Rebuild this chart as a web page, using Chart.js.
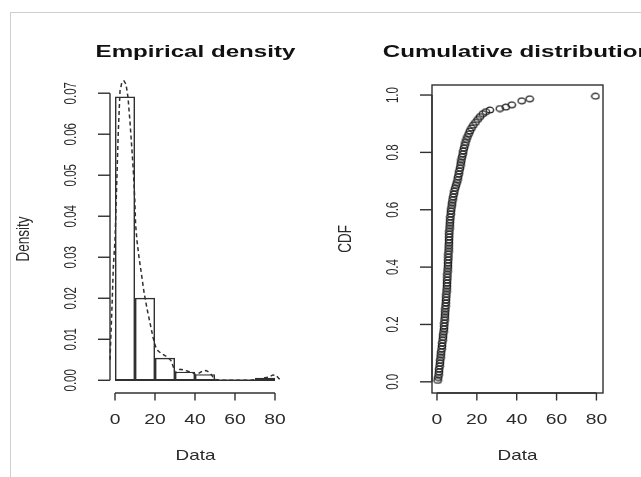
<!DOCTYPE html>
<html lang="en">
<head>
<meta charset="UTF-8">
<title>Empirical density · Cumulative distribution</title>
<script src="https://cdn.jsdelivr.net/npm/chart.js"></script>
<style>
  html, body {margin: 0; padding: 0; background: #fff; overflow: hidden;}
  body {width: 641px; height: 477px; position: relative; font-family: 'Liberation Sans', Arial, sans-serif;}
  .frame {position: absolute; left: 10px; top: 12px; width: 700px; height: 500px; border-top: 1px solid #cfcfcf; border-left: 1px solid #cfcfcf;}
  #densityBox {position: absolute; left: 0; top: 0; width: 320px; height: 477px;}
  #cdfBox {position: absolute; left: 320px; top: 0; width: 380px; height: 477px;}
  canvas {filter: blur(0.4px);}
</style>
</head>
<body>
<div class="frame"></div>
<div id="densityBox"><canvas id="densityChart" width="320" height="477"></canvas></div>
<div id="cdfBox"><canvas id="cdfChart" width="380" height="477"></canvas></div>
<script>
// --- data ---

// histogram (density per bin of width 10)
const binEdges = [0, 10, 20, 30, 40, 50, 60, 70, 80];
const binDensity = [0.0692, 0.0201, 0.0055, 0.0021, 0.0015, 0, 0, 0.0006];

// dashed empirical density curve
const kdeX = [-2.5, -1.5, -0.8, 0, 0.8, 1.6, 2.5, 3.5, 4.5, 5.5, 6.5, 7.5, 8.5, 9.3, 9.9, 10.3, 11, 12, 13.2, 14.5,
              16, 17.5, 19, 20.3, 21.5, 23, 25, 26.5, 28, 29, 30, 31, 32.5, 34.5, 36.5, 38.5, 40, 41.5, 43.5, 45.5,
              47.5, 49, 50.5, 53, 60, 68, 71, 73, 75, 77, 79, 80.5, 82, 83];
const kdeY = [0.005, 0.018, 0.028, 0.034, 0.047, 0.060, 0.0705, 0.0728, 0.0730, 0.0722, 0.0690, 0.0630, 0.0560, 0.0500, 0.0440, 0.0380, 0.0340, 0.0300, 0.0260, 0.0215,
              0.0175, 0.0140, 0.0105, 0.0082, 0.0072, 0.0066, 0.0060, 0.0056, 0.0048, 0.0035, 0.0020, 0.0019, 0.0027, 0.0025, 0.0022, 0.0020, 0.0014, 0.0016, 0.0022, 0.0024,
              0.0018, 0.0008, 0.0002, 0, 0, 0, 0.0002, 0.0004, 0.0006, 0.0008, 0.0013, 0.0012, 0.0004, 0.0001];

// empirical cumulative distribution (open circles)
const cdfX = [0.3, 0.6, 0.8, 1.0, 1.1, 1.3, 1.5, 1.6, 1.8, 1.9, 2.1, 2.3, 2.5, 2.6, 2.8, 3.0, 3.1, 3.3, 3.5, 3.6,
              3.7, 3.8, 3.9, 4.0, 4.1, 4.2, 4.3, 4.4, 4.5, 4.6, 4.7, 4.8, 4.9, 5.0, 5.0, 5.1, 5.2, 5.2, 5.3, 5.4,
              5.5, 5.5, 5.6, 5.7, 5.7, 5.8, 5.9, 5.9, 6.0, 6.0, 6.1, 6.1, 6.2, 6.3, 6.4, 6.5, 6.6, 6.7, 6.9, 7.0,
              7.2, 7.4, 7.6, 7.8, 8.1, 8.4, 8.7, 9.1, 9.5, 9.9, 10.3, 10.6, 10.9, 11.2, 11.5, 11.8, 12.0, 12.3, 12.6, 12.9,
              13.2, 13.5, 13.9, 14.3, 14.8, 15.3, 15.9, 16.5, 17.3, 18.2, 19.3, 20.4, 21.6, 23.0, 24.5, 26.5, 31.5, 34.5, 37.5, 42.5,
              46.5, 79.5];
const cdfY = [0.005, 0.015, 0.025, 0.035, 0.045, 0.055, 0.065, 0.075, 0.085, 0.095, 0.105, 0.115, 0.125, 0.135, 0.145, 0.155, 0.165, 0.175, 0.185, 0.195,
              0.205, 0.215, 0.225, 0.235, 0.245, 0.255, 0.265, 0.275, 0.285, 0.295, 0.305, 0.315, 0.325, 0.335, 0.345, 0.355, 0.365, 0.375, 0.385, 0.395,
              0.405, 0.415, 0.425, 0.435, 0.445, 0.455, 0.465, 0.475, 0.485, 0.495, 0.505, 0.515, 0.525, 0.535, 0.545, 0.555, 0.565, 0.575, 0.585, 0.595,
              0.605, 0.615, 0.625, 0.635, 0.645, 0.655, 0.665, 0.675, 0.685, 0.695, 0.705, 0.715, 0.725, 0.735, 0.745, 0.755, 0.765, 0.775, 0.785, 0.795,
              0.805, 0.815, 0.825, 0.835, 0.845, 0.855, 0.865, 0.875, 0.885, 0.895, 0.905, 0.915, 0.925, 0.935, 0.942, 0.948, 0.953, 0.958, 0.966, 0.980,
              0.987, 0.996];

// axes
const dataTicks = [0, 20, 40, 60, 80];
const densityTicks = [0, 0.01, 0.02, 0.03, 0.04, 0.05, 0.06, 0.07];
const densityLabels = ['0.00', '0.01', '0.02', '0.03', '0.04', '0.05', '0.06', '0.07'];
const cdfTicks = [0, 0.2, 0.4, 0.6, 0.8, 1.0];
const cdfLabels = ['0.0', '0.2', '0.4', '0.6', '0.8', '1.0'];

const INK = '#303030';

// R-like text: the picture is stretched sideways, so the glyphs are widened
function rText(ctx, str, x, y, size, bold, rot, sx, color) {
    ctx.save();
    ctx.translate(x, y);
    ctx.scale(sx, 1);
    ctx.rotate(rot);
    ctx.font = (bold ? 'bold ' : '') + size + "px 'Liberation Sans', Arial, sans-serif";
    ctx.textAlign = 'center';
    ctx.textBaseline = 'alphabetic';
    ctx.fillStyle = color;
    ctx.fillText(str, 0, 0);
    ctx.restore();
}

// base-graphics style axes drawn from the chart's own scales
const rAxes = {
    id: 'rAxes',
    afterDraw(chart, args, o) {
        const ctx = chart.ctx, a = chart.chartArea;
        const xs = chart.scales.x, ys = chart.scales.y;
        ctx.save();
        ctx.strokeStyle = INK;
        ctx.lineWidth = 1.4;
        const seg = (x1, y1, x2, y2) => { ctx.beginPath(); ctx.moveTo(x1, y1); ctx.lineTo(x2, y2); ctx.stroke(); };

        if (o.box) ctx.strokeRect(a.left, a.top, a.right - a.left, a.bottom - a.top);

        // x axis
        const xp = o.xTicks.map(v => xs.getPixelForValue(v));
        seg(xp[0], a.bottom, xp[xp.length - 1], a.bottom);
        xp.forEach((p, i) => {
            seg(p, a.bottom, p, a.bottom + 7.5);
            rText(ctx, String(o.xTicks[i]), p, a.bottom + 31, 14, false, 0, 1.38, '#2a2a2a');
        });
        rText(ctx, o.xTitle, (a.left + a.right) / 2, a.bottom + 67, 14.5, false, 0, 1.3, '#2a2a2a');

        // y axis
        const yp = o.yTicks.map(v => ys.getPixelForValue(v));
        seg(a.left, yp[0], a.left, yp[yp.length - 1]);
        yp.forEach((p, i) => {
            seg(a.left, p, a.left - 12, p);
            rText(ctx, o.yLabels[i], a.left - 34, p, 11.5, false, -Math.PI / 2, 1.5, '#2a2a2a');
        });
        rText(ctx, o.yTitle, a.left - 81, (a.top + a.bottom) / 2, 13.5, false, -Math.PI / 2, 1.4, '#2a2a2a');

        // main title
        rText(ctx, o.title, (a.left + a.right) / 2, a.top - 28.5, 17, true, 0, 1.42, '#111');
        ctx.restore();
    }
};

// open circle, a little wider than tall like in the picture
function ring() {
    const c = document.createElement('canvas');
    c.width = 10; c.height = 8;
    const g = c.getContext('2d');
    g.strokeStyle = '#222';
    g.lineWidth = 1.3;
    g.beginPath();
    g.ellipse(5, 4, 3.7, 2.9, 0, 0, Math.PI * 2);
    g.stroke();
    return c;
}

const fixTicks = list => axis => { axis.ticks = list.map(v => ({value: v})); };

// left: histogram + dashed density
new Chart(document.getElementById('densityChart'), {
    type: 'bar',
    data: {
        datasets: [{
            type: 'line',
            data: kdeX.map((x, i) => ({x: x, y: kdeY[i]})),
            borderColor: INK,
            borderWidth: 1.5,
            borderDash: [4, 3],
            pointRadius: 0,
            tension: 0,
            clip: false
        }, {
            type: 'line',
            data: [{x: binEdges[0], y: 0}, {x: binEdges[binEdges.length - 1], y: 0}],
            borderColor: INK,
            borderWidth: 1.4,
            pointRadius: 0
        }, {
            type: 'bar',
            data: binDensity.map((d, i) => ({x: (binEdges[i] + binEdges[i + 1]) / 2, y: d})),
            backgroundColor: 'rgba(0,0,0,0)',
            borderColor: INK,
            borderWidth: 1.4,
            borderSkipped: false,
            inflateAmount: 0,
            barPercentage: 1,
            categoryPercentage: 1
        }]
    },
    options: {
        responsive: false,
        animation: false,
        devicePixelRatio: 1,
        layout: {padding: {left: 110, right: 39, top: 85, bottom: 84}},
        plugins: {
            legend: {display: false},
            tooltip: {enabled: false},
            rAxes: {
                title: 'Empirical density', xTitle: 'Data', yTitle: 'Density',
                xTicks: dataTicks, yTicks: densityTicks, yLabels: densityLabels, box: false
            }
        },
        scales: {
            x: {type: 'linear', offset: false, min: -2.5, max: 83, display: false, afterBuildTicks: fixTicks(dataTicks)},
            y: {type: 'linear', min: -0.0031, max: 0.072, display: false, afterBuildTicks: fixTicks(densityTicks)}
        }
    },
    plugins: [rAxes]
});

// right: cumulative distribution
new Chart(document.getElementById('cdfChart'), {
    type: 'scatter',
    data: {
        datasets: [{
            data: cdfX.map((x, i) => ({x: x, y: cdfY[i]})),
            pointStyle: ring(),
            pointRadius: 4
        }]
    },
    options: {
        responsive: false,
        animation: false,
        devicePixelRatio: 1,
        layout: {padding: {left: 112, right: 97, top: 85, bottom: 84}},
        plugins: {
            legend: {display: false},
            tooltip: {enabled: false},
            rAxes: {
                title: 'Cumulative distribution', xTitle: 'Data', yTitle: 'CDF',
                xTicks: dataTicks, yTicks: cdfTicks, yLabels: cdfLabels, box: true
            }
        },
        scales: {
            x: {type: 'linear', min: -2.5, max: 83.3, display: false, afterBuildTicks: fixTicks(dataTicks)},
            y: {type: 'linear', min: -0.039, max: 1.035, display: false, afterBuildTicks: fixTicks(cdfTicks)}
        }
    },
    plugins: [rAxes]
});
</script>
</body>
</html>
